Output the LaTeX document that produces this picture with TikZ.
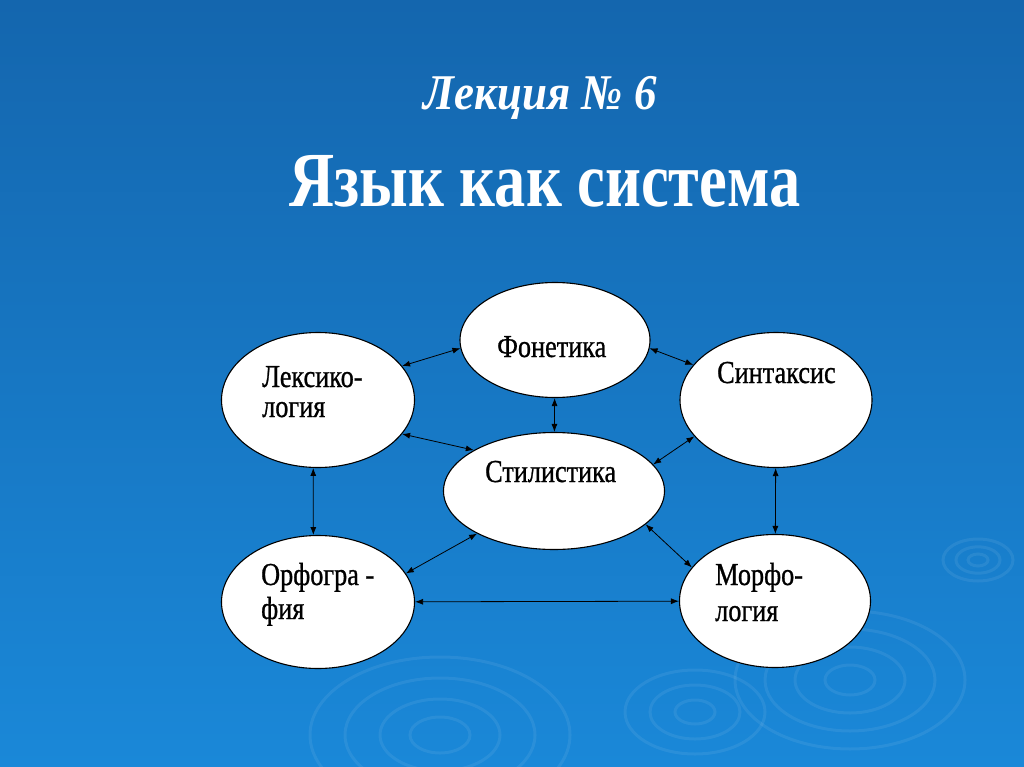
\documentclass[tikz,border=0pt]{standalone}
\usepackage{fontspec}
\setmainfont{Liberation Serif}
\newfontfamily\slidefont[FakeStretch=0.82,FakeBold=0.8]{Liberation Serif}
\newfontfamily\headfont[FakeStretch=0.8]{Liberation Serif}
\newfontfamily\lecfont[FakeStretch=0.9]{Liberation Serif}
\usetikzlibrary{shapes.geometric,arrows.meta}

\definecolor{slidetop}{RGB}{20,102,174}
\definecolor{slidemid}{RGB}{8,90,164}
\definecolor{slidebot}{RGB}{26,136,216}

\tikzset{
  blob/.style={ellipse,draw=black,fill=white,line width=1.1pt,inner sep=0pt},
  word/.style={font=\slidefont\fontsize{32}{32}\selectfont,anchor=base west,align=left,inner sep=0pt},
  link/.style={{Latex[length=8pt,width=6pt]}-{Latex[length=8pt,width=6pt]},line width=0.8pt},
  ripple/.style={white,opacity=0.07,line width=3pt}
}

\begin{document}
\begin{tikzpicture}[x=1pt,y=-1pt]
\useasboundingbox (0,0) rectangle (1024,767);
\shade[top color=slidetop,middle color=slidemid,bottom color=slidebot] (0,0) rectangle (1024,767);
% ripples in the water
\foreach \r in {30,60,95,130} \draw[ripple] (440,735) ellipse ({\r} and {0.6*\r});
\foreach \r in {20,45,70} \draw[ripple] (695,712) ellipse ({\r} and {0.6*\r});
\foreach \r in {25,55,85,115} \draw[ripple] (850,680) ellipse ({\r} and {0.6*\r});
\foreach \r in {10,22,35} \draw[ripple] (978,560) ellipse ({\r} and {0.6*\r});
% titles
\node[white,font=\lecfont\bfseries\itshape\fontsize{50}{50}\selectfont,anchor=base] (lecture) at (540,110) {Лекция №~6};
\node[white,font=\headfont\bfseries\fontsize{78}{78}\selectfont,anchor=base] (topic) at (545,207) {Язык как система};
% ellipses
\node[blob,minimum width=190pt,minimum height=115pt] (fon) at (555,340) {};
\node[blob,minimum width=193pt,minimum height=135pt] (lex) at (318,400) {};
\node[blob,minimum width=192pt,minimum height=135pt] (syn) at (776,400) {};
\node[blob,minimum width=221pt,minimum height=117pt] (sty) at (554,491) {};
\node[blob,minimum width=193pt,minimum height=133pt] (orf) at (318,602) {};
\node[blob,minimum width=191pt,minimum height=133pt] (mor) at (775,601) {};
% words
\node[word] (fonW) at (497,357) {Фонетика};
\node[word] (lexW) at (262,417) {Лексико-\\[-2pt]логия};
\node[word] (synW) at (717,383) {Синтаксис};
\node[word] (styW) at (485,482) {Стилистика};
\node[word] (orfW) at (261,619) {Орфогра -\\[2pt]фия};
\node[word] (morW) at (715,621) {Морфо-\\[4pt]логия};
% links
\draw[link] (lex.22) -- (fon.185);
\draw[link] (fon.-5) -- (syn.157);
\draw[link] (lex.-22) -- (sty.153);
\draw[link] (fon) -- (sty);
\draw[link] (syn.204) -- (sty.15);
\draw[link] (lex.-94) -- (orf.94);
\draw[link] (syn) -- (mor);
\draw[link] (sty.209) -- (orf.18);
\draw[link] (sty.-20) -- (mor.158);
\draw[link] (orf) -- (mor);
\end{tikzpicture}
\end{document}
